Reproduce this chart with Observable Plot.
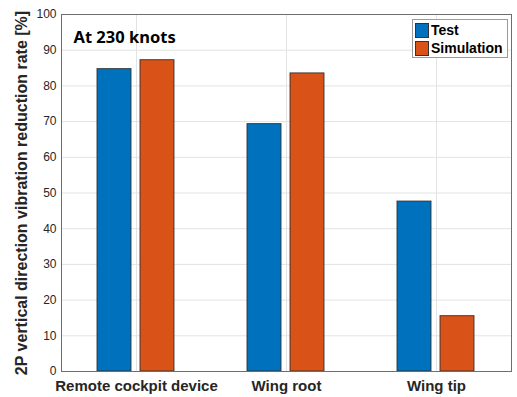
<!DOCTYPE html>
<html>
<head>
<meta charset="utf-8">
<script src="https://cdn.jsdelivr.net/npm/d3@7"></script>
<script src="https://cdn.jsdelivr.net/npm/@observablehq/plot@0.6"></script>
<style>
  html, body { margin: 0; padding: 0; background: white; }
  #wrap { position: relative; width: 517px; height: 397px; }
  #legend { position: absolute; left: 412px; top: 19px; width: 94px; height: 37px;
    border: 1px solid #9a9a9a; background: white; font-family: "Liberation Sans", Arial, sans-serif;
    font-weight: bold; font-size: 14px; color: #000; }
  .item { position: absolute; left: 2px; height: 16px; display: flex; align-items: center; }
  .sw { width: 14px; height: 15px; box-sizing: border-box; border: 1px solid #333; margin-right: 2px; }
</style>
</head>
<body>
<div id="wrap"></div>
<script>
const categories = ["Remote cockpit device", "Wing root", "Wing tip"];
const seriesNames = ["Test", "Simulation"];
const testValues = [84.7, 69.3, 47.6];
const simValues = [87.2, 83.5, 15.5];
const yTicks = [0, 10, 20, 30, 40, 50, 60, 70, 80, 90, 100];
const seriesColors = ["#0072BD", "#D95319"];
const yLabel = "2P vertical direction vibration reduction rate [%]";
const annotation = "At 230 knots";

const data = categories.flatMap((c, i) => [
  {category: c, series: seriesNames[0], value: testValues[i]},
  {category: c, series: seriesNames[1], value: simValues[i]}
]);

const axisColor = "#6e6e6e";
const gridColor = "#e3e3e3";

const chart = Plot.plot({
  width: 517,
  height: 397,
  marginLeft: 61,
  marginRight: 6,
  marginTop: 14,
  marginBottom: 26,
  style: {fontFamily: "'Liberation Sans', Arial, sans-serif", background: "white"},
  fx: {domain: categories, paddingInner: 0, paddingOuter: 0, label: null},
  x: {domain: seriesNames, paddingInner: 0.198, paddingOuter: 0.843, axis: null},
  y: {domain: [0, 100], label: null},
  color: {domain: seriesNames, range: seriesColors},
  marks: [
    Plot.gridY(yTicks, {stroke: gridColor, strokeOpacity: 1}),
    Plot.ruleX(categories, {fx: d => d, x: null, stroke: gridColor, strokeOpacity: 1}),
    Plot.barY(data, {fx: "category", x: "series", y: "value", fill: "series", stroke: "#2a2a2a", strokeWidth: 1, strokeOpacity: 0.85}),
    Plot.frame({anchor: "top", stroke: axisColor}),
    Plot.frame({anchor: "bottom", stroke: axisColor}),
    Plot.frame({anchor: "left", stroke: axisColor, facetAnchor: "left"}),
    Plot.frame({anchor: "right", stroke: axisColor, facetAnchor: "right"}),
    Plot.axisY(yTicks, {tickSize: 0, tickPadding: 5, fontSize: 12, color: "#262626", label: null}),
    Plot.axisFx({anchor: "bottom", tickSize: 0, tickPadding: 9, fontSize: 15, fontWeight: "bold", color: "#262626", label: null}),
    Plot.text([yLabel], {text: d => d, frameAnchor: "left", textAnchor: "middle", rotate: -90, dx: -39.5, dy: 0, fontSize: 16, fontWeight: "bold", fill: "#262626", facetAnchor: "left"}),
    Plot.text([annotation], {text: d => d, frameAnchor: "top-left", textAnchor: "start", lineAnchor: "bottom", dx: 12, dy: 28.5, fontSize: 16.5, fontWeight: "bold", fill: "#000", fontFamily: "'Noto Sans', 'Open Sans', sans-serif", facetAnchor: "left"})
  ]
});

const wrap = document.getElementById("wrap");
wrap.appendChild(chart);

const legend = document.createElement("div");
legend.id = "legend";
seriesNames.forEach((name, i) => {
  const item = document.createElement("div");
  item.className = "item";
  item.style.top = (2 + i * 18) + "px";
  const sw = document.createElement("span");
  sw.className = "sw";
  sw.style.background = seriesColors[i];
  item.appendChild(sw);
  const t = document.createElement("span");
  t.textContent = name;
  item.appendChild(t);
  legend.appendChild(item);
});
wrap.appendChild(legend);
</script>
</body>
</html>
